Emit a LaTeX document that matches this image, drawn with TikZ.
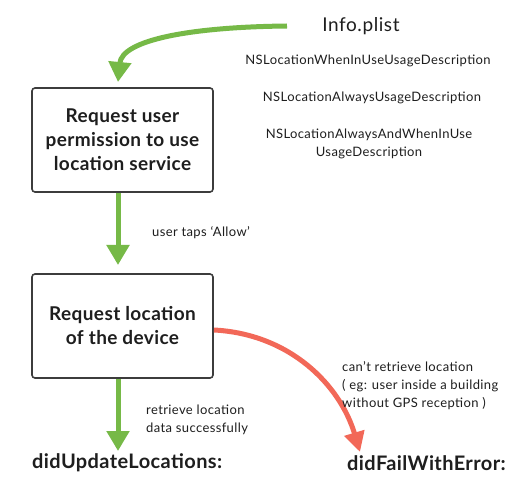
\documentclass[tikz,border=0pt]{standalone}
\usepackage{fontspec}
\setmainfont{Lato}
\newfontfamily\smallfam[LetterSpace=3]{Lato}
\newfontfamily\boldfam[LetterSpace=2]{Lato Bold}
\usetikzlibrary{arrows.meta}
\definecolor{grn}{RGB}{118,185,71}
\definecolor{rd}{RGB}{242,104,88}
\definecolor{bx}{RGB}{60,60,60}
\definecolor{txt}{RGB}{30,30,30}
\begin{document}
\begin{tikzpicture}[x=1pt,y=-1pt,
  stepbox/.style={draw=bx,line width=1.6pt,rounded corners=3pt,minimum width=181pt,minimum height=104pt,align=center,font=\boldfam\fontsize{19}{24}\selectfont,text=txt,inner sep=0pt},
  small/.style={font=\smallfam\fontsize{13}{18}\selectfont,text=txt,inner sep=0pt},
  endlbl/.style={font=\boldfam\fontsize{20}{22}\selectfont,text=txt,inner sep=0pt},
  garrow/.style={draw=grn,line width=5pt,-{Triangle[length=20pt,width=22pt]}},
  rarrow/.style={draw=rd,line width=5pt,-{Triangle[length=20pt,width=20pt]}}]
\useasboundingbox[fill=white] (0,0) rectangle (525,489);
\node[stepbox] (b1) at (122.5,140) {Request user\\permission to use\\location service};
\node[stepbox] (b2) at (122.5,326) {Request location\\of the device};
\node[font=\smallfam\fontsize{19}{20}\selectfont,text=txt,inner sep=0pt] (info) at (361,26) {Info.plist};
\node[small] (k1) at (368,61) {NSLocationWhenInUseUsageDescription};
\node[small] (k2) at (372,98) {NSLocationAlwaysUsageDescription};
\node[small,align=center,font=\smallfam\fontsize{13}{17.5}\selectfont] (k3) at (369,144) {NSLocationAlwaysAndWhenInUse\\UsageDescription};
\coordinate (gs) at (287,26);
\coordinate (gt) at (118,82);
\draw[garrow] (gs) .. controls (190,27) and (122,40) .. (gt);
\coordinate (t2) at (118,265);
\draw[garrow] (b1.south -| t2) -- (t2);
\node[small,anchor=west] (l1) at (152,233) {user taps ‘Allow’};
\node[endlbl,anchor=west] (d1) at (32,463) {didUpdateLocations:};
\node[endlbl,anchor=west] (d2) at (347,463) {didFailWithError:};
\coordinate (t3) at (118,451);
\draw[garrow] (b2.south -| t3) -- (t3);
\node[small,anchor=west,align=left] (l2) at (146,420) {retrieve location\\data successfully};
\coordinate (rs) at (214,330);
\coordinate (rt) at (360,452);
\draw[rarrow] (rs) .. controls (290,334) and (340,385) .. (rt);
\node[small,anchor=west,align=left] (l3) at (342,386) {can’t retrieve location\\( eg: user inside a building\\without GPS reception )};
\end{tikzpicture}
\end{document}
